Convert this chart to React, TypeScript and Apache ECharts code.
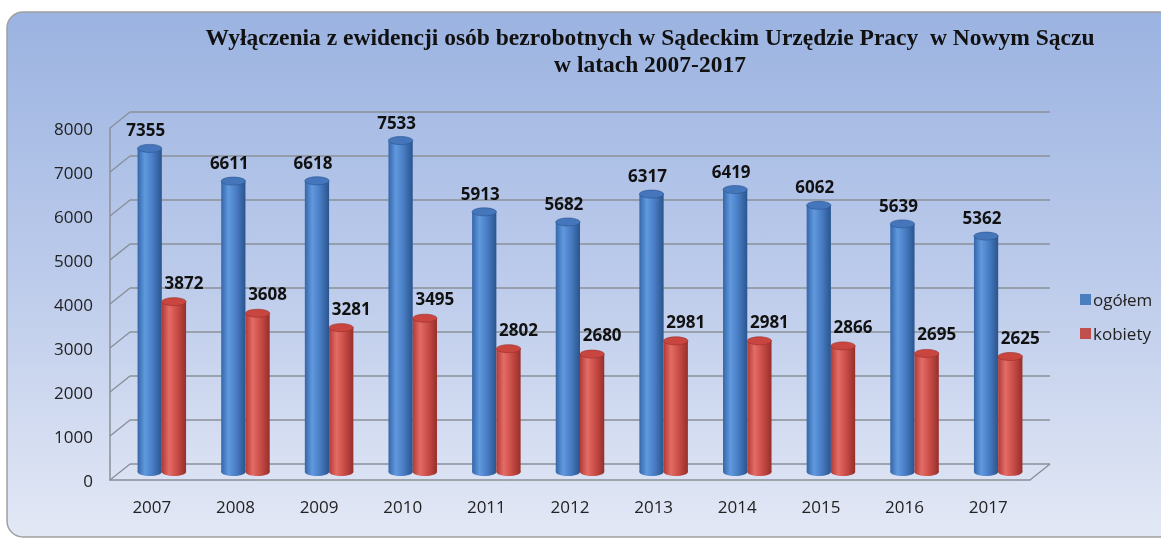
import React, { useEffect, useRef } from "react";
import * as echarts from "echarts";

const years = ["2007", "2008", "2009", "2010", "2011", "2012", "2013", "2014", "2015", "2016", "2017"];
const ogolem = [7355, 6611, 6618, 7533, 5913, 5682, 6317, 6419, 6062, 5639, 5362];
const kobiety = [3872, 3608, 3281, 3495, 2802, 2680, 2981, 2981, 2866, 2695, 2625];
const yTicks = [0, 1000, 2000, 3000, 4000, 5000, 6000, 7000, 8000];
const seriesNames = ["ogółem", "kobiety"];
const titleLine1 = "Wyłączenia z ewidencji osób bezrobotnych w Sądeckim Urzędzie Pracy  w Nowym Sączu";
const titleLine2 = "w latach 2007-2017";

const DX = 10;
const DY = 8;

function cylinder(sign: number, stops: string[], topColor: string, labelDx: number, labelGap: number) {
  return (params: any, api: any) => {
    const idx = api.value(0);
    const val = api.value(1);
    const top = api.coord([idx, val]);
    const base = api.coord([idx, 0]);
    const band = api.size([1, 0])[0];
    const w = band * 0.29;
    const cx = top[0] + (sign * w) / 2;
    const grad = new echarts.graphic.LinearGradient(0, 0, 1, 0, [
      { offset: 0, color: stops[0] },
      { offset: 0.3, color: stops[1] },
      { offset: 0.6, color: stops[2] },
      { offset: 1, color: stops[3] },
    ]);
    return {
      type: "group",
      children: [
        { type: "ellipse", shape: { cx, cy: base[1], rx: w / 2, ry: 4 }, style: { fill: grad } },
        { type: "rect", shape: { x: cx - w / 2, y: top[1], width: w, height: base[1] - top[1] }, style: { fill: grad } },
        { type: "ellipse", shape: { cx, cy: top[1], rx: w / 2, ry: 4 }, style: { fill: topColor, stroke: stops[3], lineWidth: 0.6 } },
        {
          type: "text",
          x: cx + labelDx,
          y: top[1] - 4 - labelGap,
          style: {
            text: String(val),
            textAlign: "center",
            textVerticalAlign: "bottom",
            fill: "#111",
            font: "bold 17px 'Open Sans', sans-serif",
          },
        },
      ],
    };
  };
}

export default function App() {
  const ref = useRef<HTMLDivElement>(null);
  useEffect(() => {
    if (!ref.current) return;
    const chart = echarts.init(ref.current, null, { renderer: "svg" });
    const lineColor = "#8a9099";
    chart.setOption({
      animation: false,
      graphic: [
        {
          type: "rect",
          z: -10,
          shape: { x: 7, y: 12, width: 1180, height: 525, r: 16 },
          style: {
            fill: new echarts.graphic.LinearGradient(0, 0, 0, 1, [
              { offset: 0, color: "#9bb3e1" },
              { offset: 0.5, color: "#bccbeb" },
              { offset: 1, color: "#e3e8f5" },
            ]),
            stroke: "#a0a0a0",
            lineWidth: 1.5,
          },
        },
        {
          type: "text",
          x: 650,
          y: 37,
          style: { text: titleLine1, textAlign: "center", textVerticalAlign: "middle", fill: "#111", font: "bold 23.5px 'Liberation Serif', serif" },
        },
        {
          type: "text",
          x: 650,
          y: 64,
          style: { text: titleLine2, textAlign: "center", textVerticalAlign: "middle", fill: "#111", font: "bold 23.5px 'Liberation Serif', serif" },
        },
      ],
      legend: {
        data: seriesNames,
        orient: "vertical",
        left: 1075,
        top: 286,
        icon: "rect",
        itemWidth: 11,
        itemHeight: 11,
        itemGap: 17,
        textStyle: { fontFamily: "'Open Sans', sans-serif", fontSize: 17, color: "#222", padding: [0, 0, 0, -3] },
      },
      grid: [
        { left: 120, right: 121, top: 120, bottom: 67 },
        { left: 110, right: 131, top: 128, bottom: 59 },
      ],
      xAxis: [
        { type: "category", gridIndex: 0, data: years, show: false },
        {
          type: "category",
          gridIndex: 1,
          data: years,
          axisLine: { show: true, lineStyle: { color: lineColor, width: 1.5 } },
          axisTick: { show: false },
          axisLabel: { margin: 18, fontSize: 17, color: "#222", fontFamily: "'Open Sans', sans-serif" },
        },
      ],
      yAxis: [
        { type: "value", gridIndex: 0, min: 0, max: 8000, interval: 1000, show: false },
        {
          type: "value",
          gridIndex: 1,
          min: 0,
          max: 8000,
          interval: 1000,
          axisLine: { show: true, lineStyle: { color: lineColor, width: 1.5 } },
          axisTick: { show: false },
          splitLine: { show: false },
          axisLabel: {
            margin: 17,
            fontSize: 17,
            color: "#222",
            fontFamily: "'Open Sans', sans-serif",
            formatter: (v: number) => String(v),
          },
        },
      ],
      series: [
        {
          name: "frame",
          type: "custom",
          xAxisIndex: 0,
          yAxisIndex: 0,
          silent: true,
          z: 1,
          data: yTicks.map((v) => [0, v]),
          renderItem: (params: any, api: any) => {
            const v = api.value(1);
            const cs = params.coordSys;
            const x0 = cs.x;
            const x1 = cs.x + cs.width;
            const y = api.coord([0, v])[1];
            const st = { stroke: lineColor, lineWidth: 1.5 };
            const children: any[] = [
              { type: "line", shape: { x1: x0 + DX, y1: y - DY, x2: x1 + DX, y2: y - DY }, style: st },
              { type: "line", shape: { x1: x0 - DX, y1: y + DY, x2: x0 + DX, y2: y - DY }, style: st },
            ];
            if (v === 0) {
              children.push({ type: "line", shape: { x1: x1 - DX, y1: y + DY, x2: x1 + DX, y2: y - DY }, style: st });
            }
            return { type: "group", children };
          },
        },
        {
          name: seriesNames[0],
          type: "custom",
          xAxisIndex: 0,
          yAxisIndex: 0,
          z: 3,
          itemStyle: { color: "#4a7ebf" },
          data: ogolem.map((v, i) => [i, v]),
          renderItem: cylinder(-1, ["#3466a9", "#6199de", "#4a7fc6", "#2a548e"], "#4576bb", -4, 6),
        },
        {
          name: seriesNames[1],
          type: "custom",
          xAxisIndex: 0,
          yAxisIndex: 0,
          z: 4,
          itemStyle: { color: "#c0504d" },
          data: kobiety.map((v, i) => [i, v]),
          renderItem: cylinder(1, ["#b23a35", "#e46c66", "#cc4f49", "#972e2a"], "#c8463f", 10, 7),
        },
      ],
    });
    return () => chart.dispose();
  }, []);
  return <div ref={ref} style={{ position: "fixed", left: 0, top: 0, width: 1161, height: 539 }} />;
}
